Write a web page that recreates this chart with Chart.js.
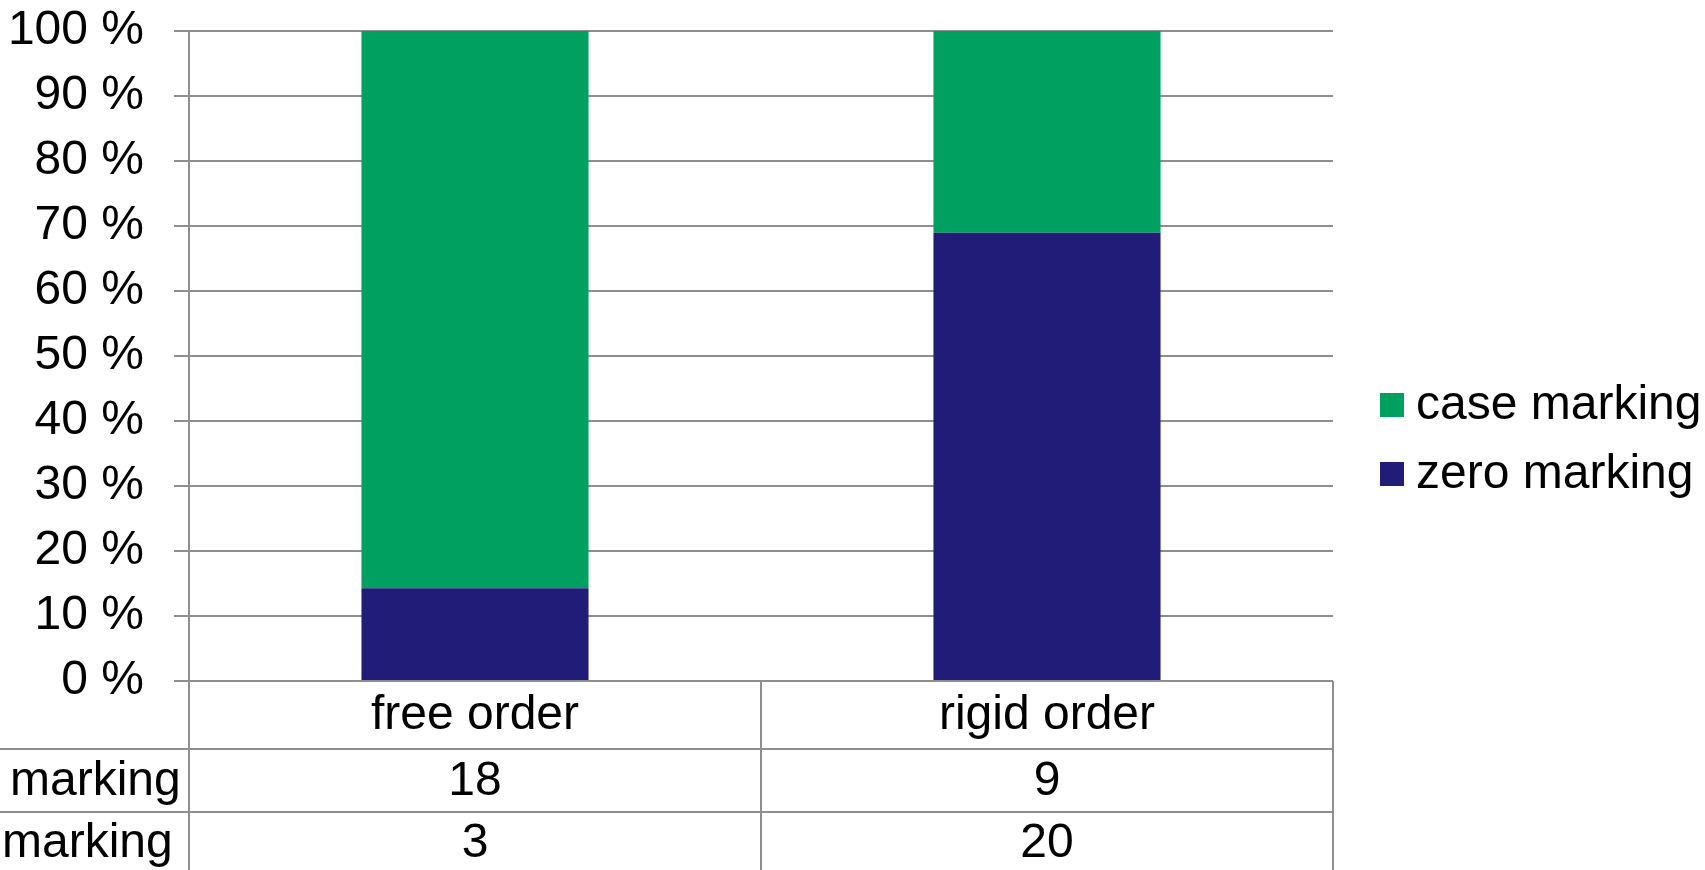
<!DOCTYPE html>
<html><head><meta charset="utf-8">
<script src="https://cdn.jsdelivr.net/npm/chart.js@4/dist/chart.umd.min.js"></script>
<style>html,body{margin:0;padding:0;background:#fff;overflow:hidden}#wrap{width:1705px;height:870px;position:relative}</style>
</head><body><div id="wrap"><canvas id="c" width="1705" height="870"></canvas></div>
<script>
const categories = ['free order', 'rigid order'];
const seriesNames = ['case marking', 'zero marking'];
const caseMarking = [18, 9];
const zeroMarking = [3, 20];
const seriesColors = ['#00A060', '#201C78'];
const yTickValues = [0, 10, 20, 30, 40, 50, 60, 70, 80, 90, 100];

const totals = categories.map((_, i) => caseMarking[i] + zeroMarking[i]);
const casePct = caseMarking.map((v, i) => v / totals[i] * 100);
const zeroPct = zeroMarking.map((v, i) => v / totals[i] * 100);

const FONT = '"Liberation Sans", Arial, sans-serif';
const FS = 48;
const GRID = '#8e8e8e';

const tablePlugin = {
  id: 'dataTable',
  afterDraw(chart) {
    const ctx = chart.ctx;
    const a = chart.chartArea;
    const xs = chart.scales.x;
    const ys = chart.scales.y;
    const H = chart.height;
    const yTop = ys.getPixelForValue(100);
    const y0 = ys.getPixelForValue(0);  // 0% line
    const y1 = y0 + 68;                 // end of category header row
    const y2 = y1 + 63;                 // end of first data row
    ctx.save();
    ctx.strokeStyle = GRID;
    ctx.lineWidth = 2;
    ctx.beginPath();
    ctx.moveTo(a.left, yTop); ctx.lineTo(a.left, H);
    const mid = (xs.getPixelForValue(0) + xs.getPixelForValue(1)) / 2;
    ctx.moveTo(mid, y0); ctx.lineTo(mid, H);
    ctx.moveTo(a.right, y0); ctx.lineTo(a.right, H);
    ctx.moveTo(0, y1); ctx.lineTo(a.right, y1);
    ctx.moveTo(0, y2); ctx.lineTo(a.right, y2);
    ctx.stroke();

    ctx.fillStyle = '#000';
    ctx.font = FS + 'px ' + FONT;
    ctx.textAlign = 'center';
    ctx.textBaseline = 'middle';
    categories.forEach((c, i) => {
      const x = xs.getPixelForValue(i);
      ctx.fillText(c, x, (y0 + y1) / 2 + 1);
      ctx.fillText(String(caseMarking[i]), x, (y1 + y2) / 2 + 1);
      ctx.fillText(String(zeroMarking[i]), x, y2 + 32);
    });
    // row labels, centred in a header cell that extends past the left edge
    ctx.fillText(seriesNames[0], 38, (y1 + y2) / 2 + 1);
    ctx.fillText(seriesNames[1], 34, y2 + 32);

    // legend
    const lx = 1380, sq = 24;
    const ly = [405, 474];
    ctx.textAlign = 'left';
    seriesNames.forEach((n, i) => {
      ctx.fillStyle = seriesColors[i];
      ctx.fillRect(lx, ly[i] - sq / 2, sq, sq);
      ctx.fillStyle = '#000';
      ctx.fillText(n, lx + 36, ly[i] + 1);
    });
    ctx.restore();
  }
};

new Chart(document.getElementById('c'), {
  type: 'bar',
  data: {
    labels: categories,
    datasets: [
      { label: seriesNames[1], data: zeroPct, backgroundColor: seriesColors[1], barPercentage: 0.397, categoryPercentage: 1 },
      { label: seriesNames[0], data: casePct, backgroundColor: seriesColors[0], barPercentage: 0.397, categoryPercentage: 1 }
    ]
  },
  options: {
    responsive: false,
    animation: false,
    devicePixelRatio: 1,
    layout: { padding: { top: 31, right: 372, left: 0, bottom: 0 } },
    plugins: { legend: { display: false }, tooltip: { enabled: false } },
    scales: {
      x: {
        stacked: true,
        grid: { display: false },
        border: { display: false },
        ticks: { display: false },
        afterFit(s) { s.height = 189; s.paddingLeft = 0; s.paddingRight = 0; }
      },
      y: {
        stacked: true,
        min: 0, max: 100,
        afterBuildTicks(s) { s.ticks = yTickValues.map(v => ({ value: v })); },
        grid: { color: GRID, lineWidth: 2, tickLength: 15, drawTicks: true },
        border: { display: false },
        ticks: {
          autoSkip: false,
          padding: 30,
          color: '#000',
          font: { family: FONT, size: FS },
          callback: v => v + ' %'
        },
        afterFit(s) { s.width = 189; s.paddingTop = 0; s.paddingBottom = 0; }
      }
    }
  },
  plugins: [tablePlugin]
});
</script>
</body></html>
